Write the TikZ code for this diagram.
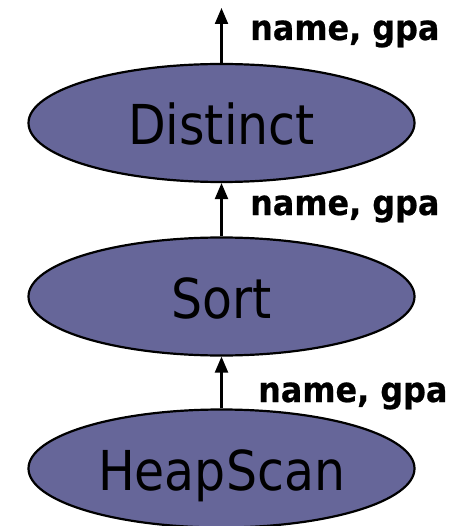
\documentclass[tikz,border=0pt]{standalone}
\usepackage{fontspec}
\setmainfont{DejaVu Sans}[FakeStretch=0.89]
\newfontfamily\labelfont{DejaVu Sans}[FakeStretch=0.91,FakeBold=0.6]
\usetikzlibrary{shapes.geometric,arrows.meta}
\definecolor{opfill}{RGB}{102,102,153}
\tikzset{
  opnode/.style={ellipse, draw=black, line width=2.2pt, fill=opfill,
    inner sep=0pt, minimum width=386pt, minimum height=118pt,
    font=\fontsize{55}{60}\selectfont, text height=44pt, text depth=0pt},
  flow/.style={line width=2.2pt, -{Triangle[length=16pt,width=13pt]}},
  attrs/.style={anchor=base west, inner sep=0pt,
    font=\labelfont\bfseries\fontsize{35}{40}\selectfont}
}
\begin{document}
\begin{tikzpicture}[x=1pt,y=-1pt]
  \useasboundingbox (0,0) rectangle (471,526);
  % operator tree, bottom to top
  \node[opnode] (distinct) at (221.5,123) {Distinct};
  \node[opnode] (sort)     at (221.5,296.5) {Sort};
  \node[opnode] (heap)     at (221.5,468.5) {HeapScan};
  \coordinate (out) at (221.5,8);
  % data flow
  \draw[flow] (heap.north) -- (sort.south);
  \draw[flow] (sort.north) -- (distinct.south);
  \draw[flow] (distinct.north) -- (out);
  % attributes carried along each edge
  \node[attrs] (l1) at (250,40)  {name, gpa};
  \node[attrs] (l2) at (250,215) {name, gpa};
  \node[attrs] (l3) at (258,402) {name, gpa};
\end{tikzpicture}
\end{document}
